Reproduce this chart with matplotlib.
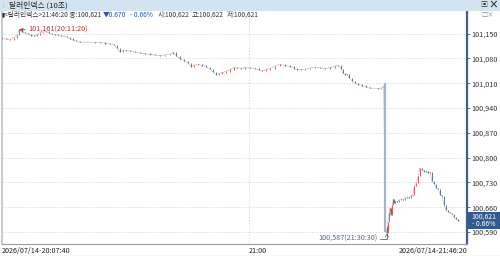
import matplotlib
matplotlib.use("Agg")
import matplotlib.pyplot as plt
from matplotlib.patches import Rectangle
import numpy as np

plt.rcParams['font.family'] = ['Noto Sans CJK KR', 'DejaVu Sans']

# ---- data (seconds elapsed since 20:07:40, close values) ----
elapsed_sec = [0, 50, 100, 150, 190, 220, 250, 290, 330, 370, 410, 450, 480, 520, 560, 600,
               640, 680, 710, 750, 790, 830, 870, 900, 940, 990, 1060, 1120, 1180, 1250,
               1310, 1370, 1430, 1460, 1500, 1540, 1580, 1630, 1690, 1760, 1820, 1880, 1950,
               2010, 2080, 2140, 2180, 2220, 2270, 2320, 2370, 2410, 2440, 2500, 2550, 2600,
               2650, 2690, 2720, 2760, 2800, 2850, 2900, 2950, 2990, 3040, 3090, 3160, 3220,
               3270, 3310, 3360, 3410, 3480, 3540, 3600, 3670, 3720, 3760, 3810, 3860, 3920,
               3980, 4050, 4110, 4180, 4240, 4280, 4320, 4340, 4370, 4390, 4420, 4460, 4490,
               4530, 4580, 4630, 4690, 4740, 4790, 4820, 4860,
               4880, 4900, 4910, 4930, 4940, 4950, 4970, 4980, 4990, 5000, 5030, 5050, 5080,
               5110, 5130, 5160, 5180, 5210, 5230, 5250, 5270, 5300, 5320, 5350, 5370, 5400,
               5420, 5450, 5470, 5500, 5530, 5550, 5580, 5600, 5630, 5650, 5680, 5700, 5730,
               5750, 5780, 5810, 5830]
close_vals = [101136, 101135, 101133, 101138, 101146, 101161, 101155, 101152, 101149, 101145,
              101143, 101147, 101152, 101155, 101156, 101152, 101149, 101147, 101146, 101143,
              101143, 101140, 101136, 101132, 101129, 101126, 101126, 101126, 101125, 101125,
              101123, 101121, 101118, 101109, 101098, 101104, 101102, 101101, 101098, 101095,
              101094, 101091, 101090, 101088, 101090, 101092, 101097, 101087, 101078, 101073,
              101067, 101056, 101061, 101063, 101060, 101056, 101050, 101042, 101035, 101037,
              101040, 101043, 101049, 101054, 101053, 101052, 101054, 101053, 101052, 101047,
              101044, 101049, 101052, 101059, 101063, 101060, 101057, 101052, 101047, 101049,
              101050, 101053, 101056, 101053, 101052, 101054, 101059, 101060, 101050, 101039,
              101033, 101036, 101025, 101016, 101011, 101006, 101004, 100999, 100996, 100996,
              100995, 100996, 101002,
              100607, 100587, 100618, 100646, 100658, 100638, 100666, 100683, 100672, 100678,
              100675, 100680, 100683, 100682, 100686, 100689, 100686, 100693, 100694, 100720,
              100728, 100748, 100771, 100765, 100761, 100762, 100757, 100759, 100734, 100725,
              100714, 100711, 100694, 100692, 100666, 100652, 100646, 100644, 100641, 100632,
              100627, 100621, 100621]

y_ticks = [101150, 101080, 101010, 100940, 100870, 100800, 100730, 100660, 100590]
x_ticks = [0, 3140, 5920]
x_tick_labels = ['2026/07/14-20:07:40', '21:00', '2026/07/14-21:46:20']
title_text = '달러인덱스 (10초)'
header_parts = [('<달러인덱스>21:46:20 종:100,621', '#333333'),
                ('▼0.670', '#2a55b0'),
                ('- 0.66%', '#2a55b0'),
                ('시:100,622', '#333333'),
                ('고:100,622', '#333333'),
                ('저:100,621', '#333333')]
peak_label = '101,161(20:11:20)'
low_label = '100,587(21:30:30)'
last_box = ['100,621', '- 0.66%']

W, H = 500, 256
fig = plt.figure(figsize=(W / 100, H / 100), dpi=100)
fig.patch.set_facecolor('white')
renderer = fig.canvas.get_renderer()

def fx(px):
    return px / W

def fy(py):
    return 1 - py / H

# title bar
fig.patches.append(Rectangle((0, fy(10.5)), 1, 10.5 / H, transform=fig.transFigure,
                             facecolor='#d3e4f1', edgecolor='none', zorder=0))
fig.text(fx(9), fy(5.2), title_text, fontsize=5.6, color='#222222', va='center', ha='left')
fig.text(fx(0.5), fy(5.2), '⋮', fontsize=4, color='#8899aa', va='center', ha='left')
fig.text(fx(484), fy(5.0), '▣', fontsize=5, color='#333333', va='center', ha='center')
fig.text(fx(493), fy(5.0), '×', fontsize=7, color='#333333', va='center', ha='center',
         fontweight='bold')

# header info line (placed piece by piece)
hy = fy(15)
fig.text(fx(1), hy, '▮', fontsize=4, color='#222222', va='center', ha='left')
xpos = 4.0
gaps = [2.0, 3.0, 5.0, 2.5, 2.5, 0]
for (txt, col), gap in zip(header_parts, gaps):
    tt = fig.text(fx(xpos), hy, txt, fontsize=4.8, color=col, va='center', ha='left')
    bb = tt.get_window_extent(renderer=renderer)
    xpos += bb.width + gap
fig.text(fx(488), hy, '□×', fontsize=4.5, color='#888888', va='center', ha='center')

# main axes
ax = fig.add_axes([fx(2), 12 / H, (467 - 2) / W, (244 - 11) / H])
ax.set_xlim(0, 5920)
ax.set_ylim(100556, 101214)
ax.set_facecolor('white')

t = np.array(elapsed_sec, dtype=float)
c = np.array(close_vals, dtype=float)
o = np.concatenate([[c[0]], c[:-1]])

for yv in y_ticks:
    ax.axhline(yv, color='#d2d2d2', lw=0.6, ls=(0, (1.5, 2.0)), zorder=1)
ax.axvline(3140, color='#d2d2d2', lw=0.6, ls=(0, (1.5, 2.0)), zorder=1)

ax.plot(t, c, color='#8a8a8a', lw=0.4, ls=(0, (2, 1)), zorder=2)
up = c >= o
lo = np.minimum(o, c) - 0.8
hi = np.maximum(o, c) + 0.8
ax.vlines(t[up], lo[up], hi[up], colors='#cc4545', lw=0.6, zorder=3)
ax.vlines(t[~up], lo[~up], hi[~up], colors='#4a5d80', lw=0.6, zorder=3)
big = (o - c) > 200
ax.vlines(t[big], c[big] - 17, o[big] + 8, colors='#a3b3c9', lw=1.6, zorder=4)

# annotations
ip = int(np.argmax(c))
ax.annotate(peak_label, xy=(t[ip], c[ip]), xytext=(t[ip] + 110, c[ip] + 1),
            fontsize=5.2, color='#b03434', va='center', ha='left',
            arrowprops=dict(arrowstyle='->', color='#b03434', lw=0.6, shrinkA=0, shrinkB=0))
il = int(np.argmin(c))
ax.annotate(low_label, xy=(t[il], c[il]), xytext=(t[il] - 120, c[il] - 17),
            fontsize=5.2, color='#4a6a94', va='center', ha='right',
            arrowprops=dict(arrowstyle='->', color='#4a6a94', lw=0.6, shrinkA=0, shrinkB=0,
                            connectionstyle='angle,angleA=0,angleB=90,rad=0'))

# axes styling
ax.yaxis.tick_right()
ax.set_yticks(y_ticks)
ax.set_yticklabels([f'{v:,}' for v in y_ticks])
ax.tick_params(axis='y', direction='out', length=2, width=0.6, color='#3f5f8f', pad=1,
               labelsize=5.2, labelcolor='#333333')
ax.set_xticks(x_ticks)
ax.set_xticklabels(x_tick_labels)
ax.tick_params(axis='x', length=0, pad=2.5, labelsize=5.2, labelcolor='#222222')
xl = ax.get_xticklabels()
xl[0].set_ha('left')
xl[1].set_ha('left')
xl[2].set_ha('right')

ax.spines['top'].set_visible(False)
ax.spines['right'].set_color('#3f5f8f')
ax.spines['right'].set_linewidth(1.6)
ax.spines['left'].set_color('#b6c3d2')
ax.spines['left'].set_linewidth(1.2)
ax.spines['bottom'].set_color('#9a9a9a')
ax.spines['bottom'].set_linewidth(0.8)

# last-price box
fig.patches.append(Rectangle((fx(467.5), fy(229)), 32 / W, 17 / H, transform=fig.transFigure,
                             facecolor='#2f5b8f', edgecolor='none', zorder=5))
fig.text(fx(484), fy(216.5), last_box[0], fontsize=5, color='white', va='center', ha='center',
         zorder=6)
fig.text(fx(484), fy(224.5), last_box[1], fontsize=5, color='white', va='center', ha='center',
         zorder=6)

# outer bottom border
fig.add_artist(plt.Line2D([0, 1], [fy(255.5), fy(255.5)], transform=fig.transFigure,
                          color='#707070', lw=0.8))

fig.savefig('out.png', dpi=100)
